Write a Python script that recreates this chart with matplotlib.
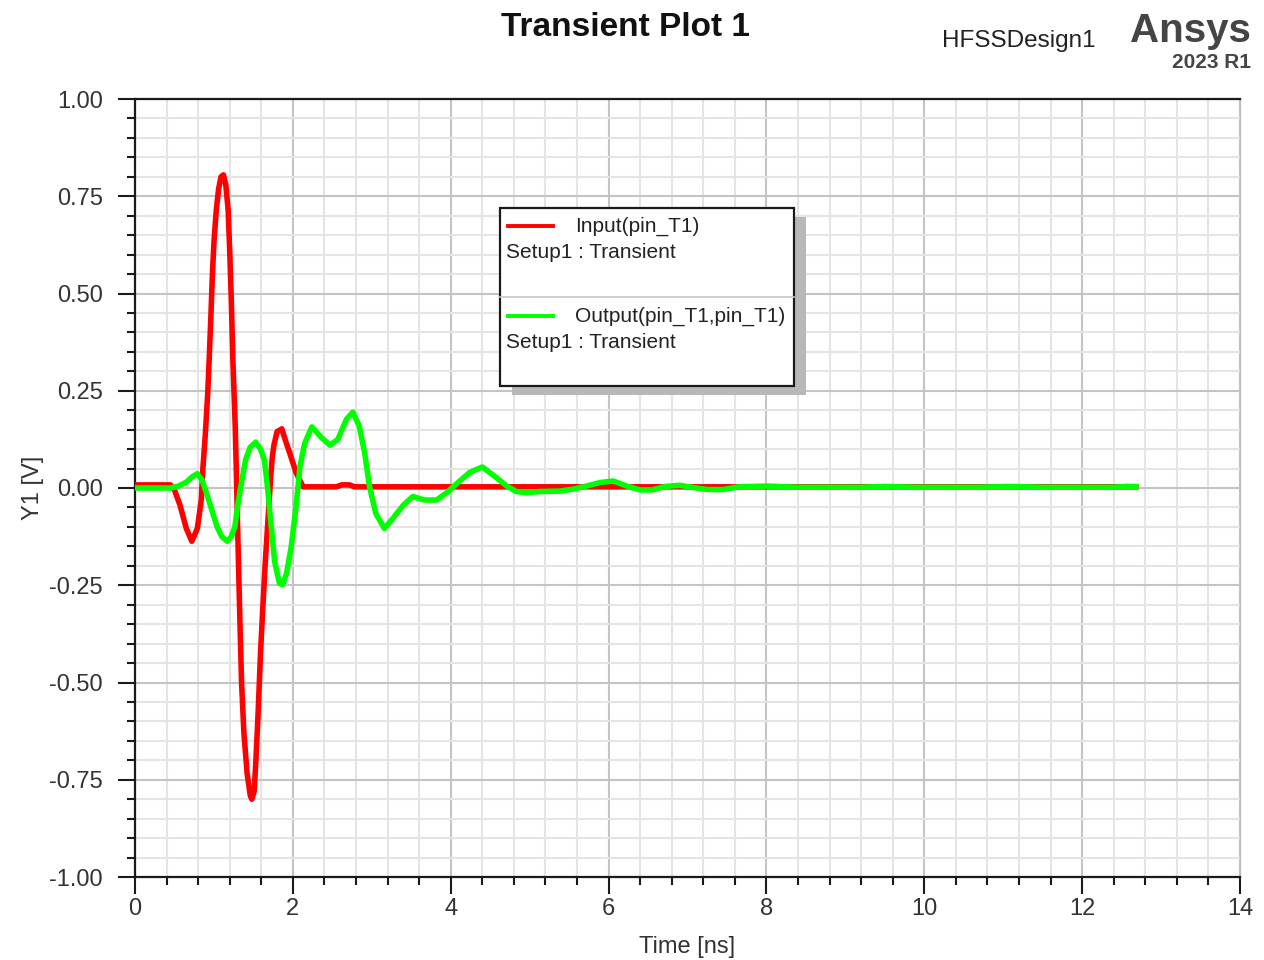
import matplotlib
matplotlib.use("Agg")
import matplotlib.pyplot as plt
from matplotlib.patches import Rectangle
from matplotlib.lines import Line2D
from matplotlib.ticker import MultipleLocator, FormatStrFormatter

plt.rcParams['font.family'] = ['Liberation Sans', 'DejaVu Sans']

# Input(pin_T1) transient waveform, time in ns, voltage in V
input_t = [0.00, 0.45, 0.50, 0.57, 0.65, 0.72, 0.79, 0.84, 0.86, 0.89, 0.92,
           0.94, 0.96, 0.98, 1.00, 1.03, 1.06, 1.09, 1.12, 1.15, 1.18, 1.20,
           1.22, 1.24, 1.27, 1.29, 1.31, 1.33, 1.35, 1.38, 1.42, 1.46, 1.48,
           1.51, 1.53, 1.56, 1.59, 1.62, 1.65, 1.69, 1.72, 1.74, 1.76, 1.80,
           1.86, 1.91, 1.96, 2.04, 2.13, 2.55, 2.62, 2.72, 2.78, 12.68]
input_v = [0.008, 0.008, -0.005, -0.044, -0.104, -0.137, -0.104, -0.030, 0.050,
           0.135, 0.238, 0.331, 0.434, 0.545, 0.631, 0.715, 0.770, 0.800, 0.805,
           0.780, 0.715, 0.610, 0.483, 0.330, 0.158, -0.010, -0.185, -0.348,
           -0.500, -0.630, -0.733, -0.790, -0.800, -0.780, -0.707, -0.578,
           -0.425, -0.305, -0.193, -0.065, 0.030, 0.080, 0.110, 0.145, 0.152,
           0.120, 0.090, 0.040, 0.003, 0.003, 0.008, 0.008, 0.003, 0.003]

# Output(pin_T1,pin_T1) transient waveform
output_t = [0.00, 0.45, 0.55, 0.65, 0.72, 0.79, 0.85, 0.90, 0.96, 1.04, 1.10,
            1.17, 1.22, 1.265, 1.30, 1.34, 1.40, 1.46, 1.53, 1.59, 1.64, 1.68,
            1.71, 1.77, 1.83, 1.87, 1.92, 1.98, 2.04, 2.09, 2.15, 2.24, 2.36,
            2.47, 2.57, 2.68, 2.76, 2.84, 2.91, 2.97, 3.05, 3.16, 3.26, 3.40,
            3.52, 3.67, 3.82, 3.95, 4.07, 4.24, 4.40, 4.57, 4.71, 4.83, 4.96,
            5.13, 5.38, 5.55, 5.72, 5.89, 6.06, 6.23, 6.40, 6.55, 6.72, 6.90,
            7.05, 7.25, 7.45, 7.65, 8.00, 8.40, 9.20, 9.50, 9.90, 10.70, 11.10,
            11.50, 12.40, 12.55, 12.68]
output_v = [0.000, 0.000, 0.005, 0.015, 0.028, 0.037, 0.020, -0.010, -0.048,
            -0.100, -0.125, -0.137, -0.125, -0.100, -0.048, 0.003, 0.072, 0.105,
            0.118, 0.100, 0.072, 0.000, -0.065, -0.190, -0.245, -0.249, -0.220,
            -0.150, -0.048, 0.055, 0.115, 0.157, 0.130, 0.110, 0.125, 0.177,
            0.195, 0.160, 0.090, 0.005, -0.065, -0.104, -0.080, -0.044, -0.022,
            -0.031, -0.031, -0.012, 0.010, 0.040, 0.054, 0.028, 0.005, -0.009,
            -0.012, -0.009, -0.008, -0.003, 0.005, 0.014, 0.018, 0.005, -0.005,
            -0.005, 0.004, 0.007, 0.002, -0.004, -0.004, 0.003, 0.005, 0.002,
            0.002, 0.004, 0.002, 0.002, 0.004, 0.002, 0.002, 0.004, 0.004]

x_ticks = [0, 2, 4, 6, 8, 10, 12, 14]
y_ticks = [-1.00, -0.75, -0.50, -0.25, 0.00, 0.25, 0.50, 0.75, 1.00]

series_names = ["Input(pin_T1)", "Output(pin_T1,pin_T1)"]
setup_label = "Setup1 : Transient"
series_colors = ["#ff0000", "#00ff00"]

W, H = 1264, 960
fig = plt.figure(figsize=(W / 100, H / 100), dpi=100)
fig.patch.set_facecolor("white")


def fx(px):
    return px / W


def fy(py):
    return 1 - py / H


ax = fig.add_axes([fx(135), fy(877), (1240 - 135) / W, (877 - 99) / H])
ax.set_xlim(0, 14)
ax.set_ylim(-1, 1)

ax.xaxis.set_major_locator(MultipleLocator(2))
ax.xaxis.set_minor_locator(MultipleLocator(0.4))
ax.yaxis.set_major_locator(MultipleLocator(0.25))
ax.yaxis.set_minor_locator(MultipleLocator(0.05))
ax.set_xticks(x_ticks)
ax.set_yticks(y_ticks)
ax.yaxis.set_major_formatter(FormatStrFormatter("%.2f"))

ax.grid(which="minor", color="#e4e4e4", lw=1.5, zorder=0)
ax.grid(which="major", color="#c4c4c4", lw=1.5, zorder=0)
ax.set_axisbelow(True)

for side in ["left", "bottom", "top", "right"]:
    ax.spines[side].set_color("#1a1a1a")
    ax.spines[side].set_linewidth(1.6)
ax.spines["right"].set_color("#bdbdbd")
ax.spines["right"].set_linewidth(1.0)

ax.tick_params(which="major", direction="out", length=12, width=1.5,
               colors="#1a1a1a", labelsize=17, labelcolor="#333333")
ax.tick_params(axis="y", which="major", pad=11)
ax.tick_params(axis="x", which="major", pad=3)
ax.tick_params(which="minor", direction="out", length=6, width=1.5,
               colors="#1a1a1a")

ax.plot(input_t, input_v, color=series_colors[0], lw=4.0, zorder=3,
        solid_joinstyle="round")
ax.plot(output_t, output_v, color=series_colors[1], lw=4.0, zorder=4,
        solid_joinstyle="round")

ax.set_xlabel("Time [ns]", fontsize=17, color="#333333", labelpad=12)
ax.set_ylabel("Y1 [V]", fontsize=17, color="#333333", labelpad=4)

# Title and header
fig.text(fx(625), fy(27), "Transient Plot 1", fontsize=24, fontweight="bold",
         ha="center", va="center", color="#111111")
fig.text(fx(1019), fy(41), "HFSSDesign1", fontsize=17.5, ha="center",
         va="center", color="#222222")
fig.text(fx(1251), fy(31), "Ansys", fontsize=29, fontweight="bold",
         ha="right", va="center", color="#454545")
fig.text(fx(1251), fy(62), "2023 R1", fontsize=15, fontweight="bold",
         ha="right", va="center", color="#454545")

# Legend box with drop shadow
bx0, bx1, by0, by1 = 500, 794, 208, 386
shadow = Rectangle((fx(bx0 + 12), fy(by1 + 9)), (bx1 - bx0) / W,
                   (by1 - by0) / H, transform=fig.transFigure,
                   facecolor="#b8b8b8", edgecolor="none", zorder=5)
fig.patches.append(shadow)
box = Rectangle((fx(bx0), fy(by1)), (bx1 - bx0) / W, (by1 - by0) / H,
                transform=fig.transFigure, facecolor="white",
                edgecolor="#1a1a1a", lw=1.6, zorder=6)
fig.patches.append(box)
fig.lines.append(Line2D([fx(bx0), fx(bx1)], [fy(297), fy(297)],
                        transform=fig.transFigure, color="#c8c8c8", lw=1.2,
                        zorder=7))

rows = [226, 316]
for name, color, ry in zip(series_names, series_colors, rows):
    fig.lines.append(Line2D([fx(508), fx(553)], [fy(ry), fy(ry)],
                            transform=fig.transFigure, color=color, lw=2.8,
                            zorder=7))
    fig.text(fx(575), fy(ry), name, fontsize=15, ha="left", va="center",
             color="#222222", zorder=8)
    fig.text(fx(506), fy(ry + 26), setup_label, fontsize=15, ha="left",
             va="center", color="#222222", zorder=8)

fig.savefig("out.png", dpi=100, facecolor="white")
